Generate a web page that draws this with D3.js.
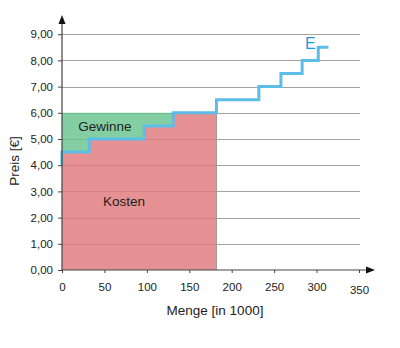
<!DOCTYPE html>
<html><head><meta charset="utf-8">
<script src="https://cdn.jsdelivr.net/npm/d3@7"></script>
<style>
html,body{margin:0;padding:0;background:#fff;}
svg{display:block;font-family:"Liberation Sans",Arial,sans-serif;}
</style></head>
<body>
<svg id="c" width="400" height="348"></svg>
<script>
// ---- data ----
const stepStartQty = [0, 32, 97, 131, 182, 232, 258, 283, 302];
const stepPrice    = [4.5, 5.0, 5.5, 6.0, 6.5, 7.0, 7.5, 8.0, 8.5];
const startPrice = 4.0;
const endQty = 314;
const marketPrice = 6.0;
const soldQty = 182;
const yTicks = [0,1,2,3,4,5,6,7,8,9];
const xTicks = [0,50,100,150,200,250,300,350];
const xTitle = "Menge [in 1000]";
const yTitle = "Preis [€]";
const labels = {gain: "Gewinne", cost: "Kosten", curve: "E"};

const svg = d3.select("#c");
const x = d3.scaleLinear().domain([0,350]).range([62, 359]);
const y = d3.scaleLinear().domain([0,9]).range([270, 34.2]);

// gridlines
svg.append("g").selectAll("line").data(yTicks.filter(d=>d>0)).join("line")
  .attr("x1", x(0)).attr("x2", x(350)+1)
  .attr("y1", d=>Math.round(y(d))+0.5).attr("y2", d=>Math.round(y(d))+0.5)
  .attr("stroke", "#a3a3a3").attr("stroke-width", 1);

// curve points
const linePts = [[0,startPrice]].concat(stepStartQty.map((q,i)=>[q,stepPrice[i]])).concat([[endQty, stepPrice[stepPrice.length-1]]]);

// cost area (under curve up to soldQty)
const costPts = [];
stepStartQty.forEach((q,i)=>{ if(q < soldQty) costPts.push([q, stepPrice[i]]); });
costPts.push([soldQty, costPts[costPts.length-1][1]]);
svg.append("path").datum(costPts)
  .attr("d", d3.area().curve(d3.curveStepAfter).x(d=>x(d[0])).y0(y(0)).y1(d=>y(d[1])))
  .attr("fill", "rgb(224,119,121)").attr("fill-opacity", 0.8)
  .attr("stroke", "none");
svg.append("line").attr("x1", x(soldQty)).attr("x2", x(soldQty))
  .attr("y1", y(0)).attr("y2", y(marketPrice)).attr("stroke","#999").attr("stroke-width",1);

// gain area (between curve and market price)
const gainPts = [];
stepStartQty.forEach((q,i)=>{ if(stepPrice[i] <= marketPrice) gainPts.push([q, stepPrice[i]]); });
svg.append("path").datum(gainPts)
  .attr("d", d3.area().curve(d3.curveStepAfter).x(d=>x(d[0])).y0(d=>y(d[1])).y1(y(marketPrice)))
  .attr("fill", "rgb(100,195,140)").attr("fill-opacity", 0.8);

// supply curve
svg.append("path").datum(linePts)
  .attr("d", d3.line().curve(d3.curveStepAfter).x(d=>x(d[0])).y(d=>y(d[1])))
  .attr("fill","none").attr("stroke","#5bbde8").attr("stroke-width",3);

// axes
const fmtY = d=>d3.format(".2f")(d).replace(".", ",");
const gy = svg.append("g").attr("transform", `translate(${x(0)},0)`)
  .call(d3.axisLeft(y).tickValues(yTicks).tickFormat(fmtY).tickSize(4).tickPadding(5));
gy.select(".domain").remove();
gy.selectAll(".tick line").attr("stroke","#444");
gy.selectAll(".tick text").attr("font-size","11.5px").attr("fill","#222").attr("font-family","Liberation Sans, Arial, sans-serif");

const gx = svg.append("g").attr("transform", `translate(0,${y(0)})`)
  .call(d3.axisBottom(x).tickValues(xTicks).tickFormat(d=>String(d)).tickSize(3).tickPadding(9));
gx.select(".domain").remove();
gx.selectAll(".tick line").attr("stroke","#444");
gx.selectAll(".tick text").attr("font-size","11.5px").attr("fill","#222").attr("font-family","Liberation Sans, Arial, sans-serif")
  .attr("dy", d=> d===350 ? "1.0em" : "0.8em");

// axis lines with arrows
svg.append("line").attr("x1", x(0)).attr("x2", x(0)).attr("y1", y(0)).attr("y2", 22)
  .attr("stroke","#444").attr("stroke-width",1.2);
svg.append("path").attr("d", `M${x(0)},15 L${x(0)-3.5},24 L${x(0)+3.5},24 Z`).attr("fill","#111");
svg.append("line").attr("x1", x(0)).attr("x2", 367).attr("y1", y(0)).attr("y2", y(0))
  .attr("stroke","#444").attr("stroke-width",1.2);
svg.append("path").attr("d", `M375,${y(0)} L366,${y(0)-3.5} L366,${y(0)+3.5} Z`).attr("fill","#111");

// titles
svg.append("text").attr("x", 215).attr("y", 315).attr("text-anchor","middle")
  .attr("font-size","13.5px").attr("fill","#222").text(xTitle);
svg.append("text").attr("transform","translate(19,161) rotate(-90)").attr("text-anchor","middle")
  .attr("font-size","13.5px").attr("fill","#222").text(yTitle);

// labels
svg.append("text").attr("x", 105).attr("y", 131).attr("text-anchor","middle")
  .attr("font-size","13.5px").attr("fill","#222").text(labels.gain);
svg.append("text").attr("x", 124).attr("y", 206).attr("text-anchor","middle")
  .attr("font-size","13.5px").attr("fill","#222").text(labels.cost);
svg.append("text").attr("x", 305).attr("y", 49)
  .attr("font-size","16px").attr("fill","#1a9bd7").text(labels.curve);
</script>
</body></html>
